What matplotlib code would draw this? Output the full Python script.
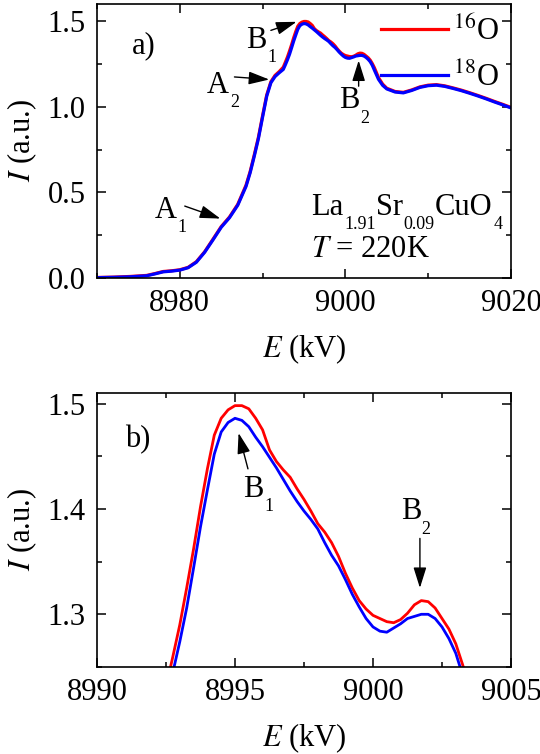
import numpy as np
import matplotlib
matplotlib.use("Agg")
import matplotlib.pyplot as plt
from matplotlib.ticker import MultipleLocator

plt.rcParams['font.family'] = 'Liberation Serif'
plt.rcParams['mathtext.fontset'] = 'stix'
FS = 22

# Data: XANES spectra (energy in kV as labelled, intensity in a.u.)
energy = [8970, 8972, 8974, 8976, 8977, 8978, 8979, 8980, 8981, 8982,
          8983, 8984, 8985, 8986, 8987, 8988, 8988.5, 8989, 8989.5, 8990,
          8990.5, 8991, 8991.5, 8992,
          8992.5, 8992.75, 8993, 8993.25, 8993.5, 8993.75, 8994, 8994.25,
          8994.5, 8994.75, 8995, 8995.25, 8995.5, 8995.75, 8996, 8996.25,
          8996.5, 8996.75, 8997, 8997.25, 8997.5, 8997.75, 8998, 8998.25,
          8998.5, 8998.75, 8999, 8999.25, 8999.5, 8999.75, 9000, 9000.25,
          9000.5, 9000.75, 9001, 9001.25, 9001.5, 9001.75, 9002, 9002.25,
          9002.5, 9002.75, 9003, 9003.25, 9003.5,
          9004, 9004.5, 9005, 9006, 9007, 9008, 9009, 9010, 9011, 9012, 9013,
          9014, 9015, 9016, 9017, 9018, 9019, 9020]

i_16O = [0.003, 0.005, 0.009, 0.015, 0.026, 0.038, 0.042, 0.048, 0.062, 0.095,
         0.153, 0.226, 0.300, 0.356, 0.430, 0.542, 0.622, 0.720, 0.823, 0.948,
         1.069, 1.146, 1.183, 1.205,
         1.231, 1.260, 1.290, 1.325, 1.362, 1.402, 1.438, 1.470,
         1.486, 1.494, 1.498, 1.498, 1.495, 1.486, 1.475, 1.456,
         1.445, 1.437, 1.430, 1.419, 1.409, 1.398, 1.386, 1.378,
         1.368, 1.355, 1.339, 1.325, 1.313, 1.305, 1.299, 1.296,
         1.293, 1.292, 1.295, 1.301, 1.309, 1.313, 1.312, 1.306,
         1.296, 1.286, 1.272, 1.252, 1.228,
         1.170, 1.132, 1.108, 1.089, 1.084, 1.098, 1.116, 1.126, 1.129, 1.122,
         1.110, 1.097, 1.082, 1.066, 1.049, 1.031, 1.014, 0.996]

i_18O = [0.002, 0.004, 0.007, 0.013, 0.024, 0.036, 0.040, 0.046, 0.060, 0.092,
         0.150, 0.222, 0.296, 0.352, 0.425, 0.535, 0.615, 0.712, 0.815, 0.940,
         1.062, 1.140, 1.176, 1.198,
         1.218, 1.245, 1.274, 1.306, 1.344, 1.383, 1.418, 1.452,
         1.473, 1.482, 1.486, 1.484, 1.478, 1.468, 1.459, 1.449,
         1.439, 1.428, 1.417, 1.407, 1.398, 1.390, 1.381, 1.368,
         1.356, 1.346, 1.333, 1.319, 1.307, 1.296, 1.288, 1.284,
         1.283, 1.287, 1.291, 1.296, 1.298, 1.300, 1.300, 1.296,
         1.288, 1.277, 1.263, 1.242, 1.214,
         1.160, 1.125, 1.104, 1.086, 1.081, 1.095, 1.113, 1.123, 1.126, 1.119,
         1.107, 1.094, 1.079, 1.063, 1.046, 1.028, 1.011, 0.993]

labels = ['$^{16}$O', '$^{18}$O']
colors = ['#ff0000', '#0000ff']

fig = plt.figure(figsize=(5.4, 7.54), dpi=100)
ax1 = fig.add_axes([0.1796, 0.6313, 0.7667, 0.3634])
ax2 = fig.add_axes([0.1796, 0.1154, 0.7667, 0.3634])


def style_axes(ax):
    for s in ax.spines.values():
        s.set_linewidth(1.2)
    ax.tick_params(which='both', direction='in', top=True, right=True,
                   width=1.1, labelsize=FS, pad=8)
    ax.tick_params(which='major', length=6.5)
    ax.tick_params(which='minor', length=3.5)
    ax.set_xlabel('$E$ (kV)', fontsize=FS, labelpad=10)
    ax.set_ylabel('$I$ (a.u.)', fontsize=FS, labelpad=6)


def arrow(ax, tail, tip):
    ax.annotate('', xy=tip, xytext=tail,
                arrowprops=dict(arrowstyle='-|>,head_length=0.7,head_width=0.22',
                                color='k', lw=1.0, shrinkA=0, shrinkB=0,
                                mutation_scale=18))


def sub_text(ax, x, y, parts, drop=8, sub_fs=13):
    # parts: list of (text, is_subscript); chained one after another
    first = ax.text(x, y, parts[0][0], fontsize=FS, va='baseline')
    prev, main = first, first
    for s, sub in parts[1:]:
        if sub:
            t = ax.annotate(s, xy=(1, 0), xycoords=(prev, main),
                            xytext=(0.5, -drop), textcoords='offset points',
                            fontsize=sub_fs, va='bottom')
        else:
            t = ax.annotate(s, xy=(1, 0), xycoords=(prev, main),
                            fontsize=FS, va='bottom')
            main = t
        prev = t


# Panel a)
for y, c, lab in zip([i_16O, i_18O], colors, labels):
    ax1.plot(energy, y, color=c, lw=2.3, label=lab)
ax1.set_xlim(8970, 9020)
ax1.set_ylim(0, 1.6)
ax1.xaxis.set_major_locator(MultipleLocator(20))
ax1.xaxis.set_minor_locator(MultipleLocator(10))
ax1.yaxis.set_major_locator(MultipleLocator(0.5))
ax1.yaxis.set_minor_locator(MultipleLocator(0.25))
ax1.yaxis.set_major_formatter(plt.FormatStrFormatter('%.1f'))
style_axes(ax1)

ax1.text(8974.2, 1.31, 'a)', fontsize=FS)
sub_text(ax1, 8977.0, 0.35, [('A', 0), ('1', 1)])
arrow(ax1, (8980.6, 0.42), (8984.9, 0.347))
sub_text(ax1, 8983.3, 1.08, [('A', 0), ('2', 1)])
arrow(ax1, (8986.6, 1.174), (8990.8, 1.159))
sub_text(ax1, 8988.0, 1.343, [('B', 0), ('1', 1)])
arrow(ax1, (8991.0, 1.446), (8994.1, 1.496))
sub_text(ax1, 8999.2, 0.99, [('B', 0), ('2', 1)])
arrow(ax1, (9001.6, 1.12), (9001.6, 1.27))
sub_text(ax1, 8995.9, 0.37, [('La', 0), ('1.91', 1), ('Sr', 0), ('0.09', 1),
                             ('CuO', 0), ('4', 1)])
ax1.text(8995.9, 0.12, '$T$ = 220K', fontsize=FS)
ax1.legend(loc='upper right', frameon=False, fontsize=FS, handlelength=2.2,
           handletextpad=0.15, labelspacing=0.5, borderaxespad=0.05,
           borderpad=0.35)

# Panel b)
for y, c in zip([i_16O, i_18O], colors):
    ax2.plot(energy, y, color=c, lw=2.0)
ax2.set_xlim(8990, 9005)
ax2.set_ylim(1.25, 1.51)
ax2.xaxis.set_major_locator(MultipleLocator(5))
ax2.xaxis.set_minor_locator(MultipleLocator(2.5))
ax2.yaxis.set_major_locator(MultipleLocator(0.1))
ax2.yaxis.set_minor_locator(MultipleLocator(0.05))
ax2.yaxis.set_major_formatter(plt.FormatStrFormatter('%.1f'))
style_axes(ax2)

ax2.text(8991.0, 1.459, 'b)', fontsize=FS)
sub_text(ax2, 8995.3, 1.411, [('B', 0), ('1', 1)])
arrow(ax2, (8995.47, 1.438), (8995.13, 1.472))
sub_text(ax2, 9001.0, 1.39, [('B', 0), ('2', 1)])
arrow(ax2, (9001.7, 1.372), (9001.7, 1.325))

fig.savefig('out.png', dpi=100)
